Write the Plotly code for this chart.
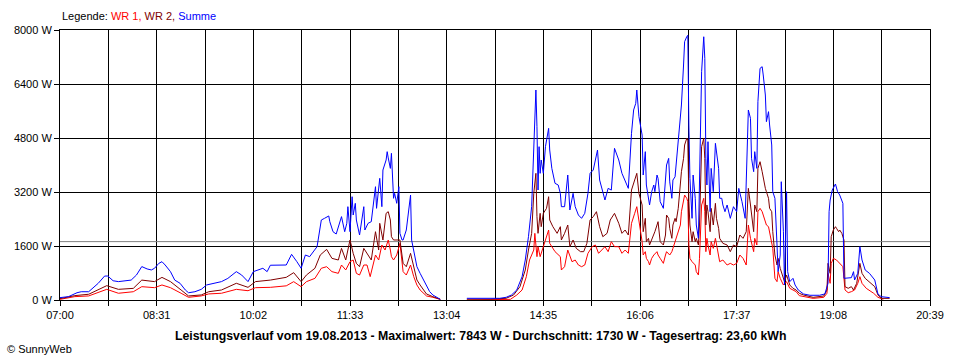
import plotly.graph_objects as go
import pandas as pd

DAY = "2013-08-19"

# ---- tick labels / axis values ----
X_TICK_LABELS = ["07:00", "08:31", "10:02", "11:33", "13:04", "14:35", "16:06", "17:37", "19:08", "20:39"]
Y_TICKS = [0, 1600, 3200, 4800, 6400, 8000]
AVERAGE_W = 1730

# ---- Summe (blue) ----
SUM_TIME = ["07:00","07:08","07:16","07:20","07:27","07:31","07:36","07:42","07:45","07:50","07:55","08:07","08:12","08:17","08:22","08:26","08:29","08:33","08:36","08:39","08:44","08:48","08:53","08:58","09:01","09:07","09:13","09:18","09:24","09:32","09:38","09:46","09:51","09:57","10:02","10:07","10:11","10:15","10:18",
"10:33","10:38","10:43","10:47","10:51","10:55","11:02","11:06","11:09","11:13","11:14","11:17","11:20","11:24","11:25","11:28","11:30","11:31","11:33","11:35","11:36","11:38","11:39","11:42","11:46","11:47","11:50","11:53","11:57","11:58","12:01","12:03","12:04","12:07","12:08","12:09","12:11","12:12","12:14","12:15","12:17","12:19","12:20","12:22","12:23","12:26","12:30","12:31","12:33","12:36","12:39","12:42","12:45","12:48","12:51","12:55","12:58",
"13:10",
"13:23","13:45","13:54","14:00","14:05","14:10","14:15","14:18","14:21","14:24","14:26","14:28","14:29","14:30","14:31","14:32","14:33","14:35","14:37","14:38","14:40","14:41","14:43","14:46","14:49","14:51","14:52","14:55","14:58","15:00","15:03","15:05","15:08","15:11","15:14","15:17","15:19","15:22","15:24","15:26","15:28","15:31","15:33","15:36","15:39","15:42","15:46","15:49","15:52","15:55","15:58","16:00","16:02","16:03","16:05",
"16:08","16:09","16:11","16:12","16:14","16:15","16:17","16:19","16:20","16:22","16:23","16:25","16:28","16:30","16:31","16:33","16:34","16:36","16:37","16:39","16:40","16:42","16:44","16:45","16:47","16:48","16:50","16:51","16:52","16:53","16:55","16:56","16:58","16:59","17:01","17:02","17:03","17:04","17:06","17:07","17:08","17:09","17:10","17:12","17:13","17:15","17:17","17:18","17:20","17:21","17:23","17:24","17:26","17:28","17:31","17:34","17:37","17:39","17:42","17:45","17:46","17:48","17:50","17:51","17:53","17:54","17:56","17:57","17:59","18:01","18:02","18:04","18:05","18:07","18:08","18:10","18:11","18:13","18:15","18:16","18:18","18:19","18:21","18:22","18:24","18:25","18:27","18:30","18:32","18:35",
"18:40","18:46","18:55","19:00","19:03","19:04","19:05","19:07","19:10","19:12","19:14","19:17","19:18","19:25","19:27","19:28","19:31","19:33","19:35","19:38","19:42","19:47","19:50","19:53","20:01"]
SUM_W = [70,100,215,245,245,345,495,710,710,570,545,590,740,990,920,890,940,1085,1135,1037,840,590,495,296,215,245,316,445,495,545,640,840,740,545,840,890,940,840,1030,
1037,1353,1135,940,1333,1284,1580,2370,2420,2490,2320,2024,1955,2370,2470,2024,2272,2765,2024,3061,2518,2864,2370,1926,2765,2074,2272,2320,3357,2716,3605,2765,3852,4148,4395,4210,3900,4346,3013,3160,2864,3357,1975,1778,1778,2074,3110,1778,1481,987,790,593,395,247,148,79,20,
None,
50,50,50,80,148,296,691,1185,1876,2765,4246,6222,5135,3259,4543,3753,4148,3753,4543,4741,5086,4444,3900,3457,3407,3160,2765,2765,3703,2667,3160,2765,2518,2420,2568,3160,3753,3852,4148,4444,3555,3160,2963,3308,3257,4494,4148,3753,3555,3308,4938,5630,5827,6222,5432,
4889,3703,4395,3407,3013,2815,3209,3407,3209,3703,3604,2914,2716,3407,4000,4197,3500,3013,3555,3650,4000,4790,5580,5778,6963,7654,7800,7843,5185,3604,2420,3703,3013,2222,1827,3407,4691,6765,7800,7160,4197,3407,4691,2617,3900,3209,4642,4395,3900,3013,3013,2815,2617,2815,2420,2765,2617,3308,2914,2420,3407,5630,5383,4197,3802,4395,3900,5877,6864,6913,6667,6074,5284,5580,5185,4593,3209,3013,1630,840,1333,3505,2024,444,3209,840,543,642,444,296,
178,140,140,178,494,2617,2963,3259,3437,3210,3110,2864,642,662,840,593,790,1580,1185,889,790,593,178,99,70]

# ---- WR 2 (dark red) ----
WR2_TIME = ["07:00","07:14","07:27","07:36","07:44","07:55","08:09","08:17","08:29","08:36","08:44","08:54","09:01","09:13","09:20","09:32","09:46","09:57","10:04","10:18",
"10:33","10:40","10:47","10:52","11:00","11:05","11:11","11:16","11:22","11:25","11:29","11:33","11:36","11:39","11:42","11:46","11:49","11:53","11:57","12:00","12:01","12:04","12:07","12:09","12:11","12:12","12:14","12:17","12:20","12:23","12:26","12:30","12:33","12:36","12:39","12:42","12:45","12:51","12:58",
"13:10",
"13:23","13:45","14:00","14:07","14:13","14:18","14:21","14:24","14:26","14:28","14:29","14:30","14:32","14:33","14:35","14:38","14:40","14:41","14:44","14:48","14:51","14:52","14:55","14:58","15:00","15:03","15:06","15:10","15:13","15:16","15:19","15:22","15:25","15:28","15:31","15:35","15:38","15:42","15:46","15:49","15:52","15:55","15:58","16:00","16:03","16:05",
"16:08","16:09","16:11","16:12","16:14","16:15","16:19","16:20","16:22","16:23","16:25","16:28","16:30","16:31","16:33","16:34","16:36","16:37","16:39","16:40","16:42","16:44","16:45","16:47","16:48","16:50","16:51","16:52","16:53","16:55","16:56","16:58","16:59","17:01","17:02","17:04","17:06","17:07","17:08","17:09","17:10","17:12","17:13","17:15","17:17","17:18","17:20","17:21","17:24","17:28","17:31","17:34","17:37","17:40","17:43","17:46","17:48","17:50","17:53","17:54","17:56","17:57","17:59","18:01","18:02","18:04","18:05","18:07","18:08","18:10","18:11","18:13","18:15","18:16","18:18","18:19","18:21","18:22","18:24","18:27","18:30","18:33","18:36",
"18:40","18:49","18:59","19:02","19:03","19:05","19:06","19:08","19:10","19:11","19:13","19:14","19:16","19:18","19:19","19:22","19:25","19:27","19:30","19:33","19:35","19:38","19:42","19:47","19:50","19:53","20:01"]
WR2_W = [40,130,170,296,425,316,345,590,545,670,545,296,120,150,245,296,495,375,545,590,
672,810,543,740,940,1333,1500,1234,1185,1530,1185,1778,1383,1086,987,1530,1383,1185,2024,1481,2272,1778,2568,2617,2370,1876,1778,1778,1778,1086,987,1383,987,593,444,296,178,99,20,
None,
25,25,50,148,395,889,1481,1975,3160,3753,2469,1975,2568,2172,2568,2716,3061,2370,2172,1975,2172,1778,1975,2222,1580,1778,1530,1432,1432,1679,2370,2469,2617,2172,1876,1975,2370,2568,2272,1975,2074,1925,3259,3457,3753,3160,
2815,2024,2420,1728,1827,1630,1926,2024,2222,2321,1728,1630,1926,2518,2420,2123,1827,2222,2420,2320,2716,3407,3802,4197,4593,4790,4740,2914,2222,1728,2024,1728,1827,1630,2222,4543,4790,4197,2222,2815,2617,2024,2716,2222,2864,2420,2123,1827,1679,1630,1432,1630,1580,1926,1827,2024,3308,2815,2024,2815,2617,3900,4098,3802,3604,3308,3209,3013,2716,2617,2024,1333,1037,1234,938,840,642,543,740,444,346,296,197,
148,79,118,296,1086,790,1876,2074,2172,2123,2024,2074,1975,1778,395,346,395,296,494,1086,790,642,543,395,148,49,49]

# ---- WR 1 (red) ----
WR1_TIME = ["07:00","07:14","07:27","07:36","07:44","07:55","08:09","08:17","08:29","08:36","08:44","08:54","09:01","09:13","09:20","09:32","09:46","09:57","10:04","10:18",
"10:33","10:40","10:47","10:52","11:00","11:06","11:11","11:16","11:22","11:25","11:29","11:33","11:36","11:39","11:42","11:46","11:49","11:52","11:57","12:00","12:03","12:06","12:09","12:11","12:12","12:14","12:17","12:20","12:23","12:26","12:30","12:33","12:36","12:39","12:42","12:45","12:51","12:58",
"13:10",
"13:23","13:45","14:04","14:10","14:15","14:19","14:22","14:26","14:27","14:29","14:30","14:32","14:35","14:38","14:40","14:41","14:46","14:51","14:52","14:55","14:58","15:02","15:05","15:08","15:11","15:14","15:17","15:21","15:24","15:27","15:30","15:33","15:36","15:39","15:42","15:46","15:49","15:52","15:55","15:58","16:01","16:03",
"16:08","16:09","16:11","16:12","16:14","16:15","16:17","16:19","16:22","16:23","16:25","16:28","16:30","16:31","16:34","16:36","16:37","16:39","16:40","16:42","16:44","16:45","16:47","16:48","16:50","16:51","16:52","16:53","16:55","16:58","16:59","17:01","17:02","17:04","17:06","17:07","17:08","17:09","17:10","17:12","17:13","17:15","17:17","17:18","17:20","17:21","17:24","17:28","17:31","17:34","17:37","17:40","17:43","17:46","17:48","17:50","17:53","17:54","17:56","17:57","17:59","18:01","18:02","18:04","18:05","18:07","18:08","18:10","18:11","18:13","18:15","18:16","18:18","18:21","18:24","18:27","18:30","18:33","18:36",
"18:40","18:49","18:59","19:02","19:03","19:05","19:06","19:08","19:11","19:14","19:17","19:19","19:22","19:25","19:28","19:31","19:33","19:35","19:39","19:46","19:50","19:55"]
WR1_W = [20,100,120,215,316,200,245,395,365,445,365,200,80,120,180,200,316,275,365,375,
420,543,395,543,642,940,987,840,790,1037,890,1135,1185,790,740,1037,1037,692,1333,1185,1630,1481,1778,1481,1284,1185,1333,1679,840,740,1037,692,444,296,198,120,79,20,
None,
0,0,20,148,296,691,1185,1481,1975,1284,1580,1284,1580,1876,2074,1679,1432,1284,889,987,1481,1135,1185,1037,987,1037,1383,1580,1630,1383,1481,1580,1432,1728,1580,1580,1383,1481,1383,2272,2568,2765,
1728,1333,1432,1234,1135,1037,1234,1333,1432,1333,1234,1086,1333,1432,1333,1432,1530,1728,1827,2024,2222,2617,2914,3110,3013,2914,1630,1234,1135,1037,840,740,1234,2815,3013,2617,1432,1827,1630,1333,1728,1530,1827,1630,1333,1135,1185,1037,1086,1037,1086,1333,1234,1037,2222,1827,1432,1827,1630,2617,2716,2617,2518,2321,2222,2172,2024,1630,1530,642,543,840,642,444,543,346,296,247,128,
99,49,79,198,790,494,1086,1234,1185,1086,987,296,217,247,296,494,691,494,346,198,79,20]


def ts(times):
    return [f"{DAY} {t}" for t in times]


# tick positions: labelled ticks plus a gridline halfway between each pair
lab = pd.to_datetime(ts(X_TICK_LABELS))
tickvals, ticktext = [], []
for i, t in enumerate(lab):
    tickvals.append(t)
    ticktext.append(X_TICK_LABELS[i])
    if i < len(lab) - 1:
        tickvals.append(t + (lab[i + 1] - t) / 2)
        ticktext.append("")

x0, x1 = lab[0], lab[-1]

FONT = "Liberation Sans"

fig = go.Figure()
fig.add_trace(go.Scatter(x=[x0, x1], y=[AVERAGE_W, AVERAGE_W], mode="lines",
                         line=dict(color="#808080", width=1), hoverinfo="skip"))
fig.add_trace(go.Scatter(x=ts(WR1_TIME), y=WR1_W, mode="lines", name="WR 1",
                         line=dict(color="#FF0000", width=1)))
fig.add_trace(go.Scatter(x=ts(WR2_TIME), y=WR2_W, mode="lines", name="WR 2",
                         line=dict(color="#800000", width=1)))
fig.add_trace(go.Scatter(x=ts(SUM_TIME), y=SUM_W, mode="lines", name="Summe",
                         line=dict(color="#0000FF", width=1)))

fig.update_layout(
    width=960, height=360,
    margin=dict(l=60, r=30, t=30, b=60),
    paper_bgcolor="white", plot_bgcolor="white",
    showlegend=False,
    font=dict(family=FONT, size=11, color="black"),
    xaxis=dict(type="date", range=[x0, x1], tickmode="array",
               tickvals=tickvals, ticktext=ticktext,
               showgrid=True, gridcolor="black", gridwidth=1,
               ticks="outside", ticklen=5, tickcolor="black", tickwidth=1,
               showline=True, linecolor="black", linewidth=1, mirror=True,
               zeroline=False, tickfont=dict(family=FONT, size=11, color="black"),
               fixedrange=True),
    yaxis=dict(range=[0, 8000], tickmode="array", tickvals=Y_TICKS,
               ticktext=[f"{v} W" for v in Y_TICKS],
               showgrid=True, gridcolor="black", gridwidth=1,
               ticks="outside", ticklen=5, tickcolor="black", tickwidth=1,
               showline=True, linecolor="black", linewidth=1, mirror=True,
               zeroline=False, tickfont=dict(family=FONT, size=11, color="black"),
               fixedrange=True),
)

fig.add_annotation(
    xref="paper", yref="paper", x=0, y=(300 - 16) / 270, xanchor="left", yanchor="middle",
    showarrow=False, font=dict(family=FONT, size=11, color="black"),
    text="Legende: <span style='color:#FF0000'>WR 1,</span> "
         "<span style='color:#800000'>WR 2,</span> "
         "<span style='color:#0000FF'>Summe</span>")
fig.add_annotation(
    xref="paper", yref="paper", x=(480 - 60) / 870, y=(300 - 336) / 270,
    xanchor="center", yanchor="middle", showarrow=False,
    font=dict(family=FONT, size=12.3, color="black"),
    text=f"<b>Leistungsverlauf vom 19.08.2013 - Maximalwert: {max(v for v in SUM_W if v)} W - "
         f"Durchschnitt: {AVERAGE_W} W - Tagesertrag: 23,60 kWh</b>")
fig.add_annotation(
    xref="paper", yref="paper", x=(5 - 60) / 870, y=(300 - 349) / 270,
    xanchor="left", yanchor="middle", showarrow=False,
    font=dict(family=FONT, size=11, color="black"),
    text="© SunnyWeb")

fig.write_html("out.html", config={"displayModeBar": False},
               post_script="document.body.style.margin='0';")
